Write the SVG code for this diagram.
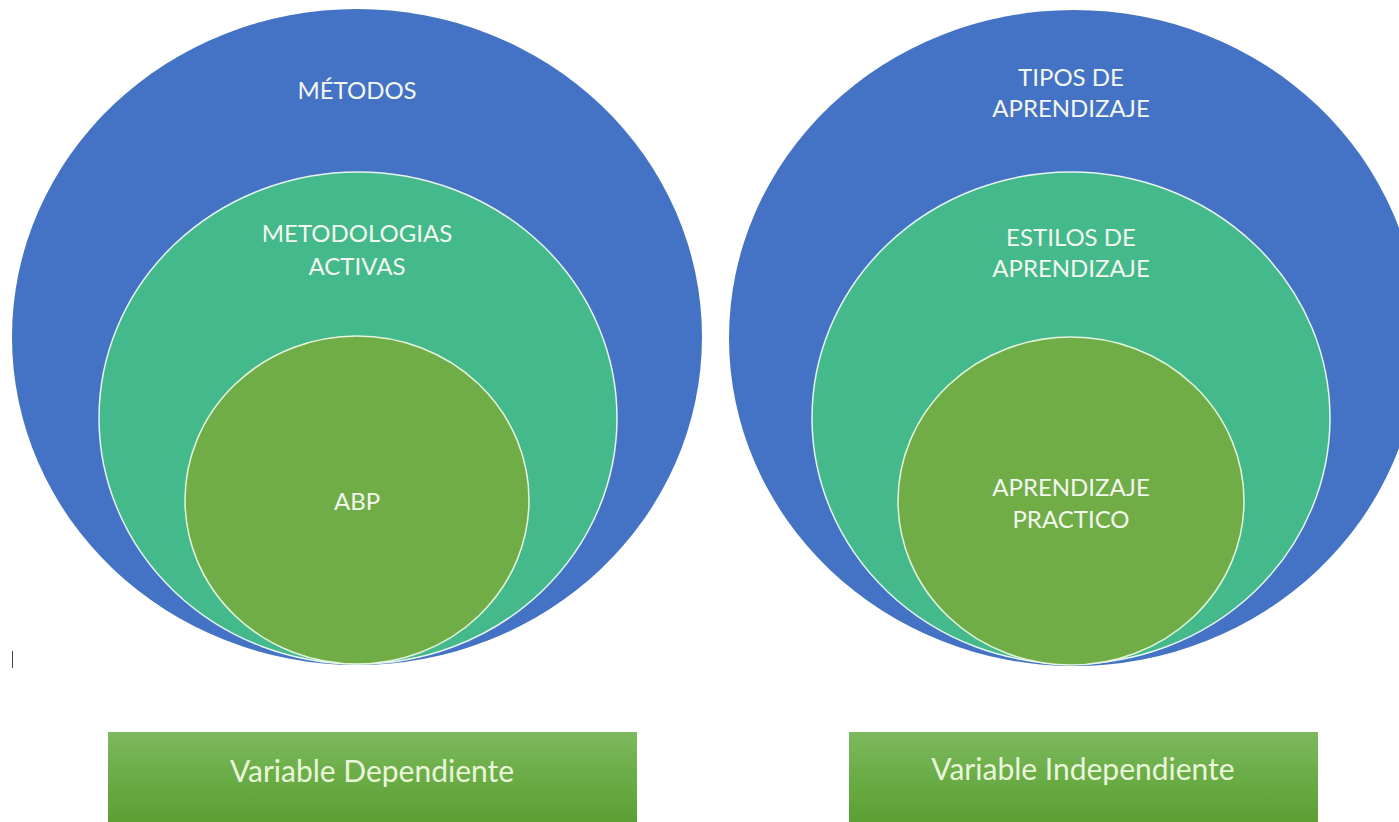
<svg xmlns="http://www.w3.org/2000/svg" width="1399" height="822" viewBox="0 0 1399 822">
  <defs>
    <linearGradient id="boxGrad" x1="0" y1="0" x2="0" y2="1">
      <stop offset="0" stop-color="#7db95f"/>
      <stop offset="0.5" stop-color="#6aac45"/>
      <stop offset="1" stop-color="#5b9f33"/>
    </linearGradient>
    <style>
      .outer { fill: #4472c4; }
      .mid { fill: #44b98b; stroke: #e8f4ee; stroke-width: 1.5; }
      .inner { fill: #70ad47; stroke: #e6f5dc; stroke-width: 1.5; }
      .lbl { font-family: Lato, "Liberation Sans", sans-serif; font-size: 24px; fill: #f3f8ef; text-anchor: middle; dominant-baseline: central; }
      .box { fill: url(#boxGrad); }
      .boxlbl { font-family: Lato, "Liberation Sans", sans-serif; font-size: 30px; fill: #eaf6dc; text-anchor: middle; dominant-baseline: central; }
    </style>
  </defs>
  <rect width="1399" height="822" fill="#ffffff"/>

  <g id="metodos">
    <ellipse class="outer" cx="357" cy="337" rx="345" ry="328"/>
    <text class="lbl" x="357" y="89">MÉTODOS</text>
  </g>
  <g id="metodologias-activas">
    <ellipse class="mid" cx="358" cy="418" rx="259" ry="246"/>
    <text class="lbl" x="357" y="232">METODOLOGIAS</text>
    <text class="lbl" x="357" y="265">ACTIVAS</text>
  </g>
  <g id="abp">
    <ellipse class="inner" cx="357" cy="500" rx="172" ry="164"/>
    <text class="lbl" x="357" y="500">ABP</text>
  </g>

  <g id="tipos-aprendizaje">
    <ellipse class="outer" cx="1074" cy="338" rx="345" ry="328"/>
    <text class="lbl" x="1071" y="76">TIPOS DE</text>
    <text class="lbl" x="1071" y="107">APRENDIZAJE</text>
  </g>
  <g id="estilos-aprendizaje">
    <ellipse class="mid" cx="1071" cy="418" rx="259" ry="246"/>
    <text class="lbl" x="1071" y="236">ESTILOS DE</text>
    <text class="lbl" x="1071" y="267">APRENDIZAJE</text>
  </g>
  <g id="aprendizaje-practico">
    <ellipse class="inner" cx="1071" cy="501" rx="173" ry="164"/>
    <text class="lbl" x="1071" y="486">APRENDIZAJE</text>
    <text class="lbl" x="1071" y="518">PRACTICO</text>
  </g>

  <g id="variable-dependiente">
    <rect class="box" x="108" y="732" width="529" height="92"/>
    <text class="boxlbl" x="372" y="770">Variable Dependiente</text>
  </g>
  <g id="variable-independiente">
    <rect class="box" x="849" y="732" width="469" height="92"/>
    <text class="boxlbl" x="1083" y="768">Variable Independiente</text>
  </g>

  <line x1="12.5" y1="651" x2="12.5" y2="668" stroke="#444" stroke-width="1"/>

  <g id="connectors"></g>
</svg>
